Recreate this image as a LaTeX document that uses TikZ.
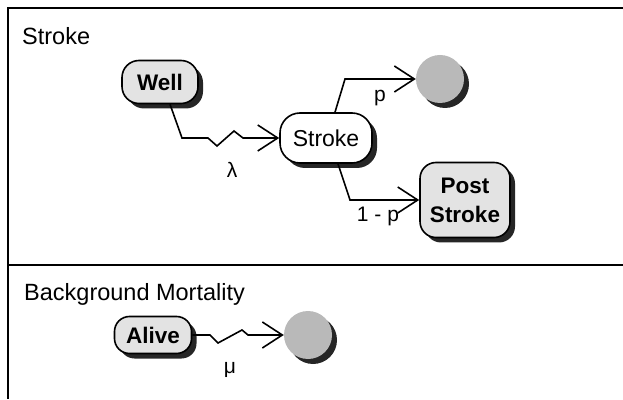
\documentclass[tikz,border=0pt]{standalone}
\usepackage{fontspec}
\setmainfont{Liberation Sans}
\usetikzlibrary{arrows.meta,shadows}
\begin{document}
\begin{tikzpicture}[x=1pt,y=1pt,
  lbl/.style={font=\fontsize{21}{24}\selectfont, inner sep=0pt},
  head/.style={font=\fontsize{23.5}{26}\selectfont, inner sep=0pt, anchor=base west},
  shad/.style={drop shadow={shadow xshift=5pt, shadow yshift=-5pt, fill=black!85, opacity=1}},
  state/.style={draw, line width=1.6pt, rounded corners=17pt, fill=gray!22,
    font=\fontsize{22.5}{29}\selectfont\bfseries, inner sep=0pt, align=center, shad},
  dead/.style={circle, fill=gray!55, minimum size=48pt, inner sep=0pt, shad},
  flow/.style={line width=1.6pt, -{Straight Barb[length=20pt,width=26pt]}},
]
\useasboundingbox (0,0) rectangle (623,399);
% frame
\draw[line width=1.3pt] (623,391) -- (8,391) -- (8,0);
\draw[line width=1.3pt] (8,134) -- (623,134);
% section titles
\node[head] (t1) at (22,354) {Stroke};
\node[head] (t2) at (24,99) {Background Mortality};
% nodes
\node[state, minimum width=76pt, minimum height=43pt] (well) at (160,317) {Well};
\node[state, minimum width=92pt, minimum height=50pt, rounded corners=20pt, fill=white, font=\fontsize{23}{26}\selectfont] (stroke) at (326,261) {Stroke};
\node[dead] (d1) at (440,320) {};
\node[state, minimum width=90pt, minimum height=75pt, rounded corners=16pt] (post) at (465,199) {Post\\Stroke};
\node[state, minimum width=77pt, minimum height=37pt, rounded corners=15pt] (alive) at (153,64) {Alive};
\node[dead] (d2) at (308,64) {};
% connectors
\draw[flow] ([xshift=10pt]well.south) -- (182,261) -- (208,261) -- (217,253) -- (234,268) -- (243,261) -- (stroke.west);
\draw[flow] ([xshift=9pt]stroke.north) -- (345,320) -- (d1.west);
\draw[flow] ([xshift=12pt]stroke.south) -- (350,199) -- (post.west);
\draw[flow] (alive.east) -- (210,64) -- (218,56) -- (242,69) -- (248,64) -- (d2.west);
% labels
\node[lbl] (lam) at (232,229) {λ};
\node[lbl] (p) at (380,301) {p};
\node[lbl] (q) at (378,183) {1 - p};
\node[lbl] (mu) at (230,29) {μ};
\end{tikzpicture}
\end{document}
